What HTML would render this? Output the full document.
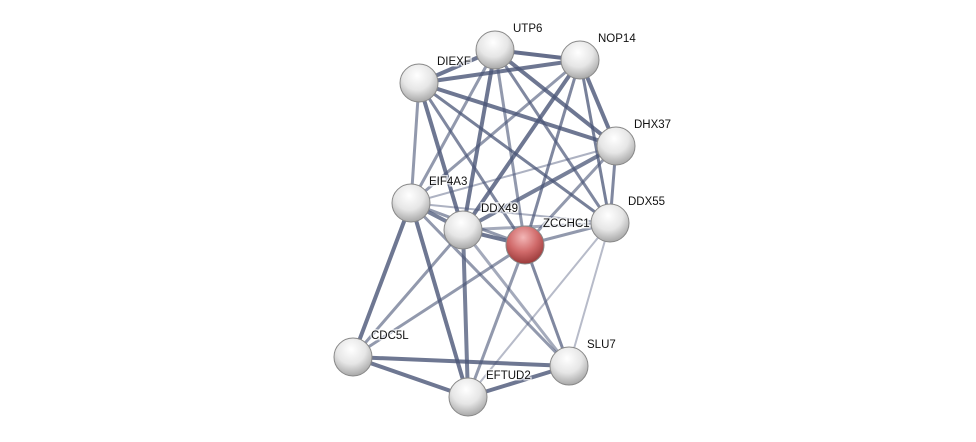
<!DOCTYPE html>
<html><head><meta charset="utf-8"><style>
html,body{margin:0;padding:0;background:#fff;}
svg{display:block;}
text{font-family:"Liberation Sans",sans-serif;font-size:11.5px;fill:#111;paint-order:stroke;stroke:#fff;stroke-width:3px;stroke-opacity:.7}
</style></head><body>
<svg width="976" height="442" viewBox="0 0 976 442" xmlns="http://www.w3.org/2000/svg">
<defs>
<radialGradient id="g" cx="45%" cy="30%" r="70%">
<stop offset="0" stop-color="#ffffff"/><stop offset="0.55" stop-color="#e6e6e6"/><stop offset="1" stop-color="#a8a8a8"/></radialGradient>
<radialGradient id="r" cx="45%" cy="30%" r="70%">
<stop offset="0" stop-color="#f3b6b6"/><stop offset="0.55" stop-color="#d06a6a"/><stop offset="1" stop-color="#9a3a3a"/></radialGradient>
</defs>
<g stroke="#4a5577" stroke-linecap="round" fill="none" id="edges"></g>
<g id="nodes"></g>
</svg>
<script>
var N={UTP6:[495,50],NOP14:[580,60],DIEXF:[419,83],DHX37:[616,146],EIF4A3:[411,203],DDX49:[463,230],ZCCHC1:[525,245],DDX55:[610,223],CDC5L:[353,357],SLU7:[569,366],EFTUD2:[468,397]};
var E=[["DIEXF","UTP6",4,.8],["DIEXF","NOP14",4,.8],["DIEXF","DHX37",4,.8],["DIEXF","DDX55",3,.75],["DIEXF","EIF4A3",3,.6],["DIEXF","DDX49",4,.8],["DIEXF","ZCCHC1",3,.7],
["UTP6","NOP14",4,.85],["UTP6","DHX37",4,.8],["UTP6","DDX55",3,.7],["UTP6","EIF4A3",3,.6],["UTP6","DDX49",4,.8],["UTP6","ZCCHC1",3,.6],
["NOP14","DHX37",4,.8],["NOP14","DDX55",3,.75],["NOP14","EIF4A3",3,.6],["NOP14","DDX49",4,.8],["NOP14","ZCCHC1",3,.7],
["DHX37","DDX55",3,.7],["DHX37","EIF4A3",2,.45],["DHX37","DDX49",4,.75],["DHX37","ZCCHC1",3,.6],
["DDX55","ZCCHC1",3,.6],["DDX55","DDX49",3,.5],["DDX55","EIF4A3",2,.45],["DDX55","SLU7",2,.4],["DDX55","EFTUD2",2,.4],
["EIF4A3","DDX49",4,.75],["EIF4A3","ZCCHC1",3,.6],["EIF4A3","CDC5L",4,.8],["EIF4A3","EFTUD2",4,.8],["EIF4A3","SLU7",3,.6],
["DDX49","ZCCHC1",4,.8],["DDX49","CDC5L",3,.6],["DDX49","EFTUD2",4,.75],["DDX49","SLU7",3,.5],
["ZCCHC1","CDC5L",3,.6],["ZCCHC1","EFTUD2",3,.6],["ZCCHC1","SLU7",3,.7],
["CDC5L","SLU7",4,.8],["CDC5L","EFTUD2",4,.8],["EFTUD2","SLU7",4,.8]];
var ns="http://www.w3.org/2000/svg",eg=document.getElementById("edges"),ng=document.getElementById("nodes");
E.forEach(function(e){var a=N[e[0]],b=N[e[1]],l=document.createElementNS(ns,"line");
l.setAttribute("x1",a[0]);l.setAttribute("y1",a[1]);l.setAttribute("x2",b[0]);l.setAttribute("y2",b[1]);
l.setAttribute("stroke-width",e[2]);l.setAttribute("stroke-opacity",e[3]);eg.appendChild(l);});
for(var k in N){var p=N[k],c=document.createElementNS(ns,"circle");
c.setAttribute("cx",p[0]);c.setAttribute("cy",p[1]);c.setAttribute("r",19);
c.setAttribute("fill",k=="ZCCHC1"?"url(#r)":"url(#g)");c.setAttribute("stroke","#888");c.setAttribute("stroke-width","1");ng.appendChild(c);
var t=document.createElementNS(ns,"text");t.setAttribute("x",p[0]+18);t.setAttribute("y",p[1]-18);t.textContent=k;
if(k=="DIEXF"){t.setAttribute("x",p[0]+18);t.setAttribute("y",p[1]-18);}
ng.appendChild(t);}
</script>
</body></html>
